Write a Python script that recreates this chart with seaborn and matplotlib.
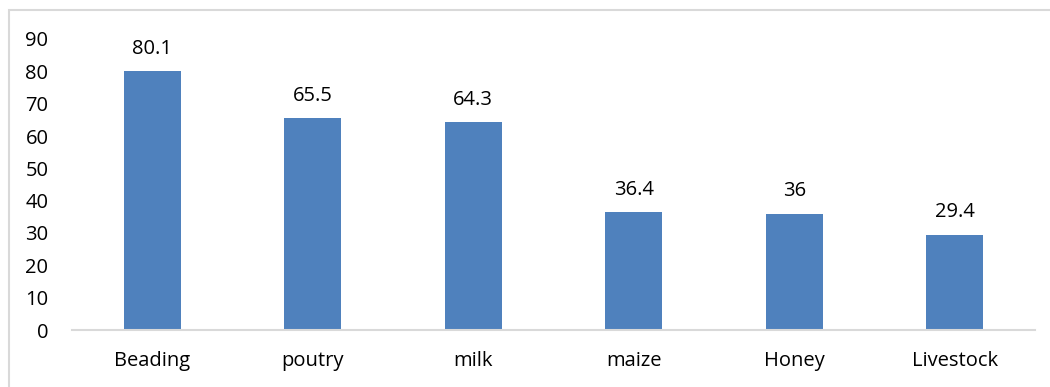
import matplotlib
matplotlib.use("Agg")
import matplotlib.pyplot as plt
import seaborn as sns
import pandas as pd
from matplotlib.patches import Rectangle

categories = ["Beading", "poutry", "milk", "maize", "Honey", "Livestock"]
values = [80.1, 65.5, 64.3, 36.4, 36, 29.4]
value_labels = ["80.1", "65.5", "64.3", "36.4", "36", "29.4"]
yticks = [0, 10, 20, 30, 40, 50, 60, 70, 80, 90]

sns.set_theme(style="white")
plt.rcParams["font.family"] = ["Open Sans", "DejaVu Sans"]

df = pd.DataFrame({"category": categories, "value": values})

fig = plt.figure(figsize=(10.5, 3.87), dpi=100)
ax = fig.add_axes([72/1050, 57/387, (1035-72)/1050, (330-39)/387])

sns.barplot(data=df, x="category", y="value", color="#4F81BD", width=0.355,
            saturation=1, ax=ax, edgecolor="none")

for i, (v, lab) in enumerate(zip(values, value_labels)):
    ax.annotate(lab, (i, v), xytext=(0, 9), textcoords="offset points",
                ha="center", va="bottom", fontsize=14.5, color="black")

ax.set_ylim(0, 90)
ax.set_yticks(yticks)
ax.set_xlim(-0.5, len(categories) - 0.5)
ax.set_xlabel("")
ax.set_ylabel("")
ax.tick_params(axis="y", length=0, pad=17, labelsize=14.5, labelcolor="black")
ax.tick_params(axis="x", length=0, pad=15, labelsize=14.5, labelcolor="black")
for s in ["left", "right", "top"]:
    ax.spines[s].set_visible(False)
ax.spines["bottom"].set_color("#D9D9D9")
ax.spines["bottom"].set_linewidth(1.5)

# outer chart border (extends past right and bottom edges)
fig.patches.append(Rectangle((8.5/1050, -0.05), 1.1, (387-9.5)/387 + 0.05,
                             transform=fig.transFigure, fill=False,
                             edgecolor="#D9D9D9", linewidth=1.5))

fig.savefig("out.png", dpi=100)
